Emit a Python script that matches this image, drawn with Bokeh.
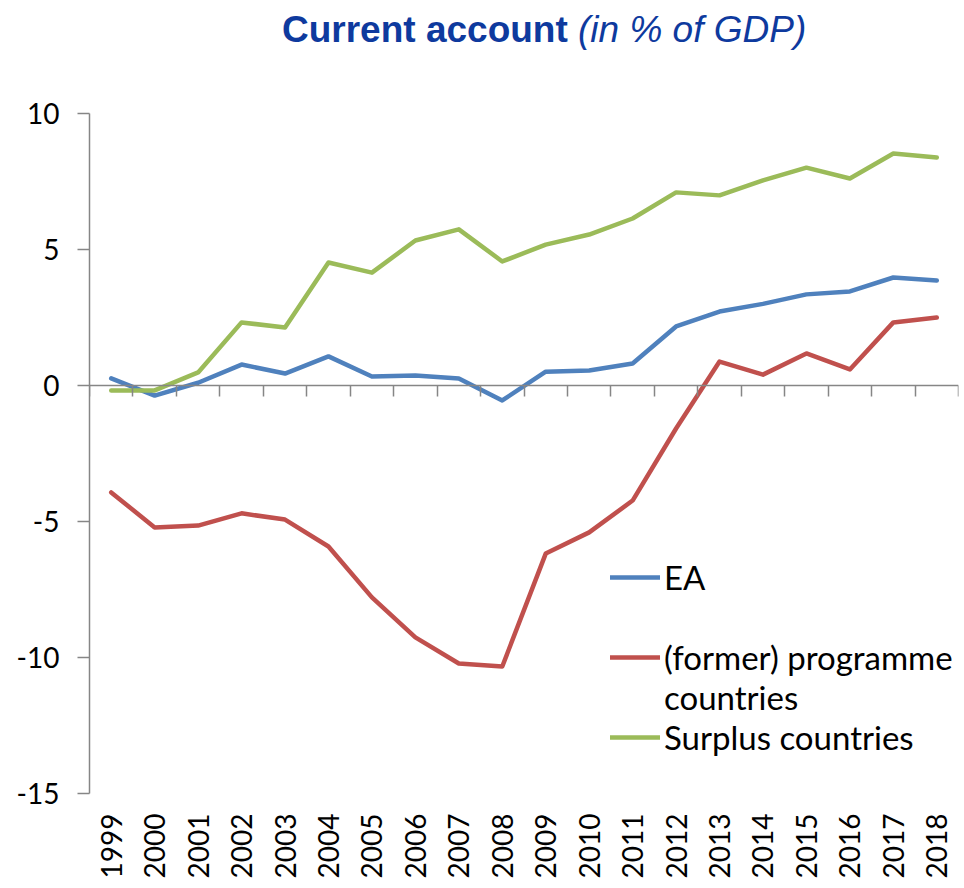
import math
from bokeh.plotting import figure
from bokeh.models import (LinearAxis, FixedTicker, Range1d, Legend, LegendItem, Div)
from bokeh.layouts import column
from bokeh.embed import file_html
from bokeh.resources import INLINE

years = list(range(1999, 2019))
ea = [0.26, -0.37, 0.10, 0.77, 0.44, 1.07, 0.33, 0.37, 0.26, -0.55,
      0.51, 0.55, 0.81, 2.17, 2.72, 3.00, 3.35, 3.46, 3.97, 3.86]
programme = [-3.93, -5.22, -5.15, -4.70, -4.93, -5.92, -7.79, -9.26, -10.22, -10.33,
             -6.18, -5.40, -4.23, -1.58, 0.88, 0.40, 1.18, 0.59, 2.32, 2.50]
surplus = [-0.18, -0.18, 0.48, 2.32, 2.13, 4.52, 4.15, 5.33, 5.74, 4.56,
           5.18, 5.55, 6.14, 7.10, 6.99, 7.54, 8.01, 7.61, 8.53, 8.38]
y_ticks = [-15, -10, -5, 0, 5, 10]
y_tick_labels = ["-15", "-10", "-5", "0", "5", "10"]
series_names = ["EA", "(former) programme", "countries", "Surplus countries"]
colors = ["#4F81BD", "#C0504D", "#9BBB59"]
title_main = "Current account"
title_sub = "(in % of GDP)"

FONT = "Lato"
AX_COLOR = "#868686"
TITLE_H = 60

title = Div(
    text=(f'<span style="font-weight:bold">{title_main}</span> '
          f'<span style="font-style:italic">{title_sub}</span>'),
    width=964, height=TITLE_H, margin=0,
    styles={"font-family": "'Liberation Sans', Arial, sans-serif", "font-size": "37px",
            "color": "#0E3A9E", "line-height": "37px", "padding-left": "282px",
            "padding-top": "11px", "white-space": "nowrap"})

p = figure(width=964, height=886 - TITLE_H, output_backend="svg", toolbar_location=None,
           x_range=Range1d(years[0] - 0.5, years[-1] + 0.5),
           y_range=Range1d(y_ticks[0], y_ticks[-1]),
           min_border_left=89, min_border_right=6, min_border_top=113 - TITLE_H,
           min_border_bottom=93, margin=0)
p.outline_line_color = None
p.xgrid.visible = False
p.ygrid.visible = False
p.background_fill_color = "white"
p.border_fill_color = "white"

# lines
r_ea = p.line(years, ea, line_color=colors[0], line_width=4.5, line_join="round", line_cap="round")
r_pr = p.line(years, programme, line_color=colors[1], line_width=4.5, line_join="round", line_cap="round")
r_su = p.line(years, surplus, line_color=colors[2], line_width=4.5, line_join="round", line_cap="round")
dummy = p.line(x=[], y=[], line_alpha=0)

# y axis
ya = p.yaxis[0]
ya.ticker = FixedTicker(ticks=y_ticks)
ya.major_label_overrides = {t: s for t, s in zip(y_ticks, y_tick_labels)}
ya.axis_line_color = AX_COLOR
ya.axis_line_width = 1.5
ya.major_tick_line_color = AX_COLOR
ya.major_tick_line_width = 1.5
ya.major_tick_out = 12
ya.major_tick_in = 0
ya.minor_tick_line_color = None
ya.major_label_standoff = 18
ya.major_label_text_font = FONT
ya.major_label_text_font_size = "28px"
ya.major_label_text_color = "black"

# x labels axis (bottom), reading bottom-to-top
xa = p.xaxis[0]
xa.ticker = FixedTicker(ticks=years)
xa.axis_line_color = None
xa.major_tick_line_color = None
xa.minor_tick_line_color = None
xa.major_tick_out = 0
xa.major_tick_in = 0
xa.major_label_orientation = math.pi / 2
xa.major_label_standoff = 20
xa.major_label_text_font = FONT
xa.major_label_text_font_size = "28px"
xa.major_label_text_color = "black"

# zero axis with category-boundary ticks
bounds = [y - 0.5 for y in years] + [years[-1] + 0.5]
za = LinearAxis(fixed_location=0, ticker=FixedTicker(ticks=bounds))
za.axis_line_color = AX_COLOR
za.axis_line_width = 1.5
za.major_tick_line_color = AX_COLOR
za.major_tick_line_width = 1.5
za.major_tick_out = 11
za.major_tick_in = 0
za.minor_tick_line_color = None
za.major_label_text_font_size = "0px"
za.major_label_text_alpha = 0
p.add_layout(za, "below")

# legend
legend = Legend(items=[
    LegendItem(label=series_names[0], renderers=[r_ea]),
    LegendItem(label=" ", renderers=[dummy]),
    LegendItem(label=series_names[1], renderers=[r_pr]),
    LegendItem(label=series_names[2], renderers=[dummy]),
    LegendItem(label=series_names[3], renderers=[r_su]),
], location=(521, 36))
legend.background_fill_alpha = 0
legend.border_line_color = None
legend.padding = 0
legend.margin = 0
legend.spacing = 0
legend.glyph_width = 50
legend.glyph_height = 40
legend.label_height = 40
legend.label_standoff = 4
legend.label_text_font = FONT
legend.label_text_font_size = "33px"
legend.label_text_color = "black"
legend.label_text_baseline = "middle"
p.add_layout(legend, "center")

layout = column(title, p, spacing=0, margin=0)
open("out.html", "w").write(file_html(layout, INLINE))
